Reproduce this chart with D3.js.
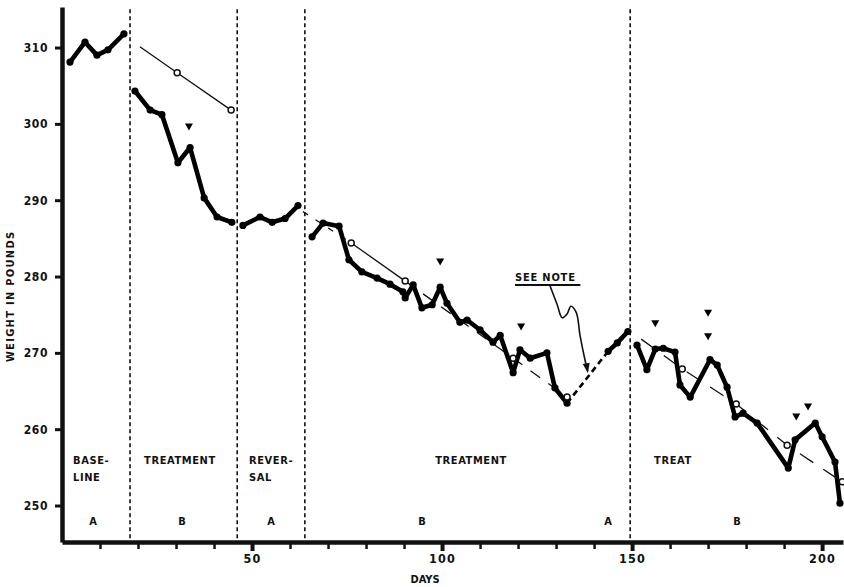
<!DOCTYPE html>
<html>
<head>
<meta charset="utf-8">
<script src="https://cdn.jsdelivr.net/npm/d3@7"></script>
<style>
  body { margin: 0; background: #fff; }
  text { font-family: "DejaVu Sans Condensed", "Liberation Sans Narrow", sans-serif; font-weight: bold; fill: #111; }
</style>
</head>
<body>
<svg id="chart" width="844" height="587"></svg>
<script>
// Daily weight readings [day, pounds] for each phase
const baselineA   = [[2.1,308.1],[6.05,310.7],[9.2,309.0],[12.1,309.7],[16.3,311.8]];
const treatmentB1 = [[19.2,304.3],[23.2,301.8],[26.3,301.2],[30.5,294.9],[33.7,296.9],[37.4,290.3],[40.8,287.8],[44.7,287.1]];
const reversalA   = [[47.6,286.7],[52.1,287.8],[55.3,287.1],[58.7,287.6],[62.1,289.3]];
const treatmentB2 = [[65.8,285.2],[68.7,287.0],[72.9,286.6],[75.5,282.2],[78.9,280.6],[82.9,279.8],[86.3,279.0],
                     [89.7,278.0],[90.3,277.2],[92.4,278.9],[94.7,275.9],[97.4,276.3],[99.5,278.6],[101.3,276.5],
                     [104.7,274.0],[106.6,274.3],[110.0,273.0],[113.4,271.4],[115.3,272.3],[118.7,267.4],
                     [120.5,270.4],[123.2,269.3],[127.6,270.0],[129.7,265.4],[132.9,263.4]];
const returnA2    = [[143.7,270.2],[146.1,271.3],[148.9,272.8]];
const treatmentB3 = [[151.3,271.0],[153.9,267.8],[156.1,270.5],[158.2,270.6],[161.3,270.1],[162.6,265.8],
                     [165.3,264.2],[170.5,269.1],[172.4,268.4],[175.0,265.5],[177.1,261.6],[179.2,262.1],
                     [182.9,260.8],[191.1,254.9],[192.9,258.6],[198.2,260.8],[200.0,259.0],[203.4,255.7],[204.7,250.3]];

// Trend lines (open circles mark the fitted points)
const trendB1       = [[20.5,310.1],[30.3,306.7],[44.5,301.8]];
const trendB2Lead   = [[63.4,288.5],[76.1,284.4]];
const trendB2Solid  = [[76.1,284.4],[90.3,279.4]];
const trendB2Dash   = [[90.3,279.4],[118.7,269.3],[132.9,264.2]];
const trendB3       = [[152.4,271.8],[163.2,267.9],[177.4,263.3],[190.8,257.9],[205.3,253.1]];
const trendCircles  = [[30.3,306.7],[44.5,301.8],[76.1,284.4],[90.3,279.4],[118.7,269.3],[132.9,264.2],
                       [163.2,267.9],[177.4,263.3],[190.8,257.9],[205.3,253.1]];

// Event markers (inverted triangles)
const eventMarks = [[33.4,299.6],[99.5,281.9],[120.8,273.4],[156.1,273.8],[170.0,275.2],[170.0,272.1],[193.2,261.6],[196.3,262.9]];

// Phase boundaries (days)
const phaseBounds = [17.9, 46.1, 63.9, 149.5];

// Phase titles and design letters
const phaseTitles = [
  { day: 2.9,   lines: ["BASE-", "LINE"] },
  { day: 21.6,  lines: ["TREATMENT"] },
  { day: 49.2,  lines: ["REVER-", "SAL"] },
  { day: 98.2,  lines: ["TREATMENT"] },
  { day: 155.8, lines: ["TREAT"] }
];
const phaseLetters = [[8.2,"A"],[31.6,"B"],[55.0,"A"],[94.7,"B"],[143.7,"A"],[177.6,"B"]];

// Annotation arrow path (day, pounds)
const notePath = [[128.4,278.8],[130.3,276.3],[131.6,274.6],[132.9,275.1],[133.9,276.1],[135.3,275.3],[136.3,272.3],[137.6,269.1],[138.3,267.6]];

const yTicks = [250, 260, 270, 280, 290, 300, 310];
const xTicks = d3.range(10, 201, 10);
const xTickLabels = [50, 100, 150, 200];

const svg = d3.select("#chart");
const x = d3.scaleLinear().domain([0, 205.5]).range([62, 843]);
const y = d3.scaleLinear().domain([245.22, 315.31]).range([542, 7]);

// Phase boundary lines
svg.append("g").selectAll("line").data(phaseBounds).join("line")
  .attr("x1", d => x(d)).attr("x2", d => x(d))
  .attr("y1", y(315.0)).attr("y2", y(245.6))
  .attr("stroke", "#111").attr("stroke-width", 1.6).attr("stroke-dasharray", "4,3");

// Axes
const xAxis = svg.append("g").attr("transform", `translate(0,${y(245.22)})`)
  .call(d3.axisBottom(x).tickValues(xTicks)
    .tickFormat(d => xTickLabels.includes(d) ? d : "")
    .tickSize(7).tickPadding(5).tickSizeOuter(0));
xAxis.select(".domain").attr("stroke", "#111").attr("stroke-width", 4.5);
xAxis.selectAll(".tick line").attr("stroke", "#111")
  .attr("stroke-width", d => d % 50 === 0 ? 4 : 2.5)
  .attr("y2", d => d % 50 === 0 ? 9 : 7);
xAxis.selectAll(".tick text").attr("font-size", 12.5).attr("letter-spacing", 1.2).attr("fill", "#111");

const yAxis = svg.append("g").attr("transform", `translate(${x(0)},0)`)
  .call(d3.axisLeft(y).tickValues(yTicks).tickSize(7).tickPadding(7).tickSizeOuter(0));
yAxis.select(".domain").attr("stroke", "#111").attr("stroke-width", 4.5);
yAxis.selectAll(".tick line").attr("stroke", "#111").attr("stroke-width", 3);
yAxis.selectAll(".tick text").attr("font-size", 12).attr("letter-spacing", 0.6).attr("fill", "#111");

svg.append("text").attr("x", 425).attr("y", 583).attr("text-anchor", "middle")
  .attr("font-size", 11).text("DAYS");
svg.append("text").attr("transform", `translate(14,${y(277.4)}) rotate(-90)`)
  .attr("text-anchor", "middle").attr("font-size", 11).attr("letter-spacing", 1.3)
  .text("WEIGHT IN POUNDS");

// Phase titles
const titles = svg.append("g");
phaseTitles.forEach(p => {
  p.lines.forEach((t, i) => {
    titles.append("text").attr("x", x(p.day)).attr("y", y(255.5) + i * 17)
      .attr("font-size", 11).attr("letter-spacing", 0.6).text(t);
  });
});
svg.append("g").selectAll("text").data(phaseLetters).join("text")
  .attr("x", d => x(d[0])).attr("y", y(247.4)).attr("text-anchor", "middle")
  .attr("font-size", 11).text(d => d[1]);

const line = d3.line().x(d => x(d[0])).y(d => y(d[1]));

// Trend lines
const trendG = svg.append("g").attr("fill", "none").attr("stroke", "#111").attr("stroke-width", 1.3);
trendG.append("path").attr("d", line(trendB1));
trendG.append("path").attr("d", line(trendB2Lead)).attr("stroke-dasharray", "6,9");
trendG.append("path").attr("d", line(trendB2Solid));
trendG.append("path").attr("d", line(trendB2Dash)).attr("stroke-dasharray", "12,10");
trendG.append("path").attr("d", line(trendB3)).attr("stroke-dasharray", "16,12");

// Weight series
const series = [baselineA, treatmentB1, reversalA, treatmentB2, returnA2, treatmentB3];
const dataG = svg.append("g");
series.forEach(s => {
  dataG.append("path").attr("d", line(s)).attr("fill", "none").attr("stroke", "#000")
    .attr("stroke-width", 4.6).attr("stroke-linejoin", "round").attr("stroke-linecap", "round");
  dataG.append("g").selectAll("circle").data(s).join("circle")
    .attr("cx", d => x(d[0])).attr("cy", d => y(d[1])).attr("r", 3.6).attr("fill", "#000");
});
// Dashed bridge across the missing readings
dataG.append("path").attr("d", line([treatmentB2[treatmentB2.length - 1], returnA2[0]]))
  .attr("fill", "none").attr("stroke", "#000").attr("stroke-width", 2.6).attr("stroke-dasharray", "6,4");

// Trend circles on top
svg.append("g").selectAll("circle").data(trendCircles).join("circle")
  .attr("cx", d => x(d[0])).attr("cy", d => y(d[1])).attr("r", 3)
  .attr("fill", "#fff").attr("stroke", "#111").attr("stroke-width", 1.5);

// Event triangles
svg.append("g").selectAll("path").data(eventMarks).join("path")
  .attr("transform", d => `translate(${x(d[0])},${y(d[1])})`)
  .attr("d", "M-4,-3.5L4,-3.5L0,3.5Z").attr("fill", "#000");

// "SEE NOTE" annotation
svg.append("text").attr("x", x(119.2)).attr("y", y(279.4)).attr("font-size", 11)
  .attr("letter-spacing", 0.8).text("SEE NOTE");
svg.append("line").attr("x1", x(119.2)).attr("x2", x(136.4))
  .attr("y1", y(278.9)).attr("y2", y(278.9)).attr("stroke", "#111").attr("stroke-width", 2);
svg.append("path").attr("d", d3.line().curve(d3.curveCatmullRom).x(d => x(d[0])).y(d => y(d[1]))(notePath))
  .attr("fill", "none").attr("stroke", "#111").attr("stroke-width", 1.6);
const tip = notePath[notePath.length - 1];
svg.append("path").attr("transform", `translate(${x(tip[0])},${y(tip[1])}) rotate(-10)`)
  .attr("d", "M-3.5,-8L3.5,-8L0,2Z").attr("fill", "#111");
</script>
</body>
</html>
